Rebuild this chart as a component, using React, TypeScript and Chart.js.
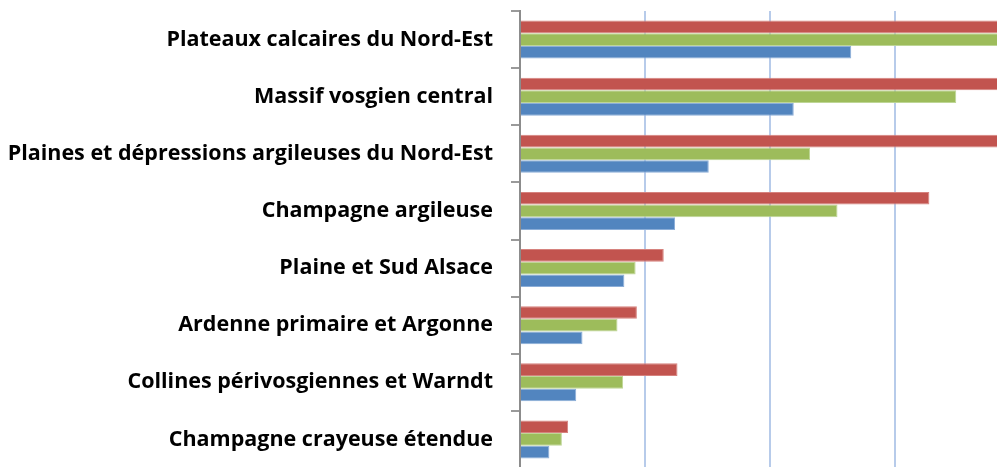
import React, { useEffect, useRef } from "react";
import { Chart, registerables } from "chart.js";

Chart.register(...registerables);

const categories = [
  "Plateaux calcaires du Nord-Est",
  "Massif vosgien central",
  "Plaines et dépressions argileuses du Nord-Est",
  "Champagne argileuse",
  "Plaine et Sud Alsace",
  "Ardenne primaire et Argonne",
  "Collines périvosgiennes et Warndt",
  "Champagne crayeuse étendue",
];

const seriesRed = [44, 42, 41, 32.75, 11.5, 9.35, 12.6, 3.85];
const seriesGreen = [40, 34.9, 23.2, 25.4, 9.25, 7.8, 8.25, 3.35];
const seriesBlue = [26.5, 21.9, 15.1, 12.4, 8.35, 5.0, 4.5, 2.35];

const xMin = 0;
const xMax = 38.16;
const xStep = 10;

export default function App() {
  const ref = useRef<HTMLCanvasElement | null>(null);

  useEffect(() => {
    if (!ref.current) return;
    const chart = new Chart(ref.current, {
      type: "bar",
      data: {
        labels: categories,
        datasets: [
          {
            label: "Série 3",
            data: seriesRed,
            backgroundColor: "#C2544F",
            borderColor: "rgba(214,130,126,1)",
            borderWidth: 1,
            categoryPercentage: 0.667,
            barPercentage: 1,
          },
          {
            label: "Série 2",
            data: seriesGreen,
            backgroundColor: "#9DBC5B",
            borderColor: "rgba(190,214,150,1)",
            borderWidth: 1,
            categoryPercentage: 0.667,
            barPercentage: 1,
          },
          {
            label: "Série 1",
            data: seriesBlue,
            backgroundColor: "#5285BF",
            borderColor: "rgba(140,174,216,1)",
            borderWidth: 1,
            categoryPercentage: 0.667,
            barPercentage: 1,
          },
        ],
      },
      options: {
        indexAxis: "y",
        animation: false,
        responsive: false,
        layout: { padding: { top: 11, bottom: 2, left: 0, right: 0 } },
        plugins: {
          legend: { display: false },
          tooltip: { enabled: false },
        },
        scales: {
          x: {
            type: "linear",
            min: xMin,
            max: xMax,
            afterFit: (scale: any) => {
              scale.height = 0;
              scale.paddingLeft = 0;
              scale.paddingRight = 0;
              scale.paddingTop = 0;
              scale.paddingBottom = 0;
            },
            ticks: { display: false, stepSize: xStep, includeBounds: false },
            border: { display: false },
            grid: {
              drawTicks: false,
              lineWidth: 2,
              color: (ctx: any) =>
                ctx.tick && ctx.tick.value > 0 && ctx.tick.value < xMax
                  ? "#B7CBEA"
                  : "rgba(0,0,0,0)",
            },
          },
          y: {
            type: "category",
            offset: true,
            afterFit: (scale: any) => {
              scale.width = 520;
              scale.paddingTop = 0;
              scale.paddingBottom = 0;
              scale.paddingLeft = 0;
              scale.paddingRight = 0;
            },
            border: { display: true, color: "#8C8C8C", width: 2 },
            grid: {
              offset: true,
              drawOnChartArea: false,
              drawTicks: true,
              tickLength: 9,
              color: "#9A9A9A",
              lineWidth: 2,
            },
            ticks: {
              padding: 18,
              color: "#000000",
              font: { family: "Open Sans", weight: "bold", size: 21.5 },
            },
          },
        },
      },
    });
    return () => chart.destroy();
  }, []);

  return (
    <div style={{ position: "fixed", left: 0, top: 0, width: 997, height: 470 }}>
      <canvas ref={ref} width={997} height={470} style={{ display: "block" }} />
    </div>
  );
}
